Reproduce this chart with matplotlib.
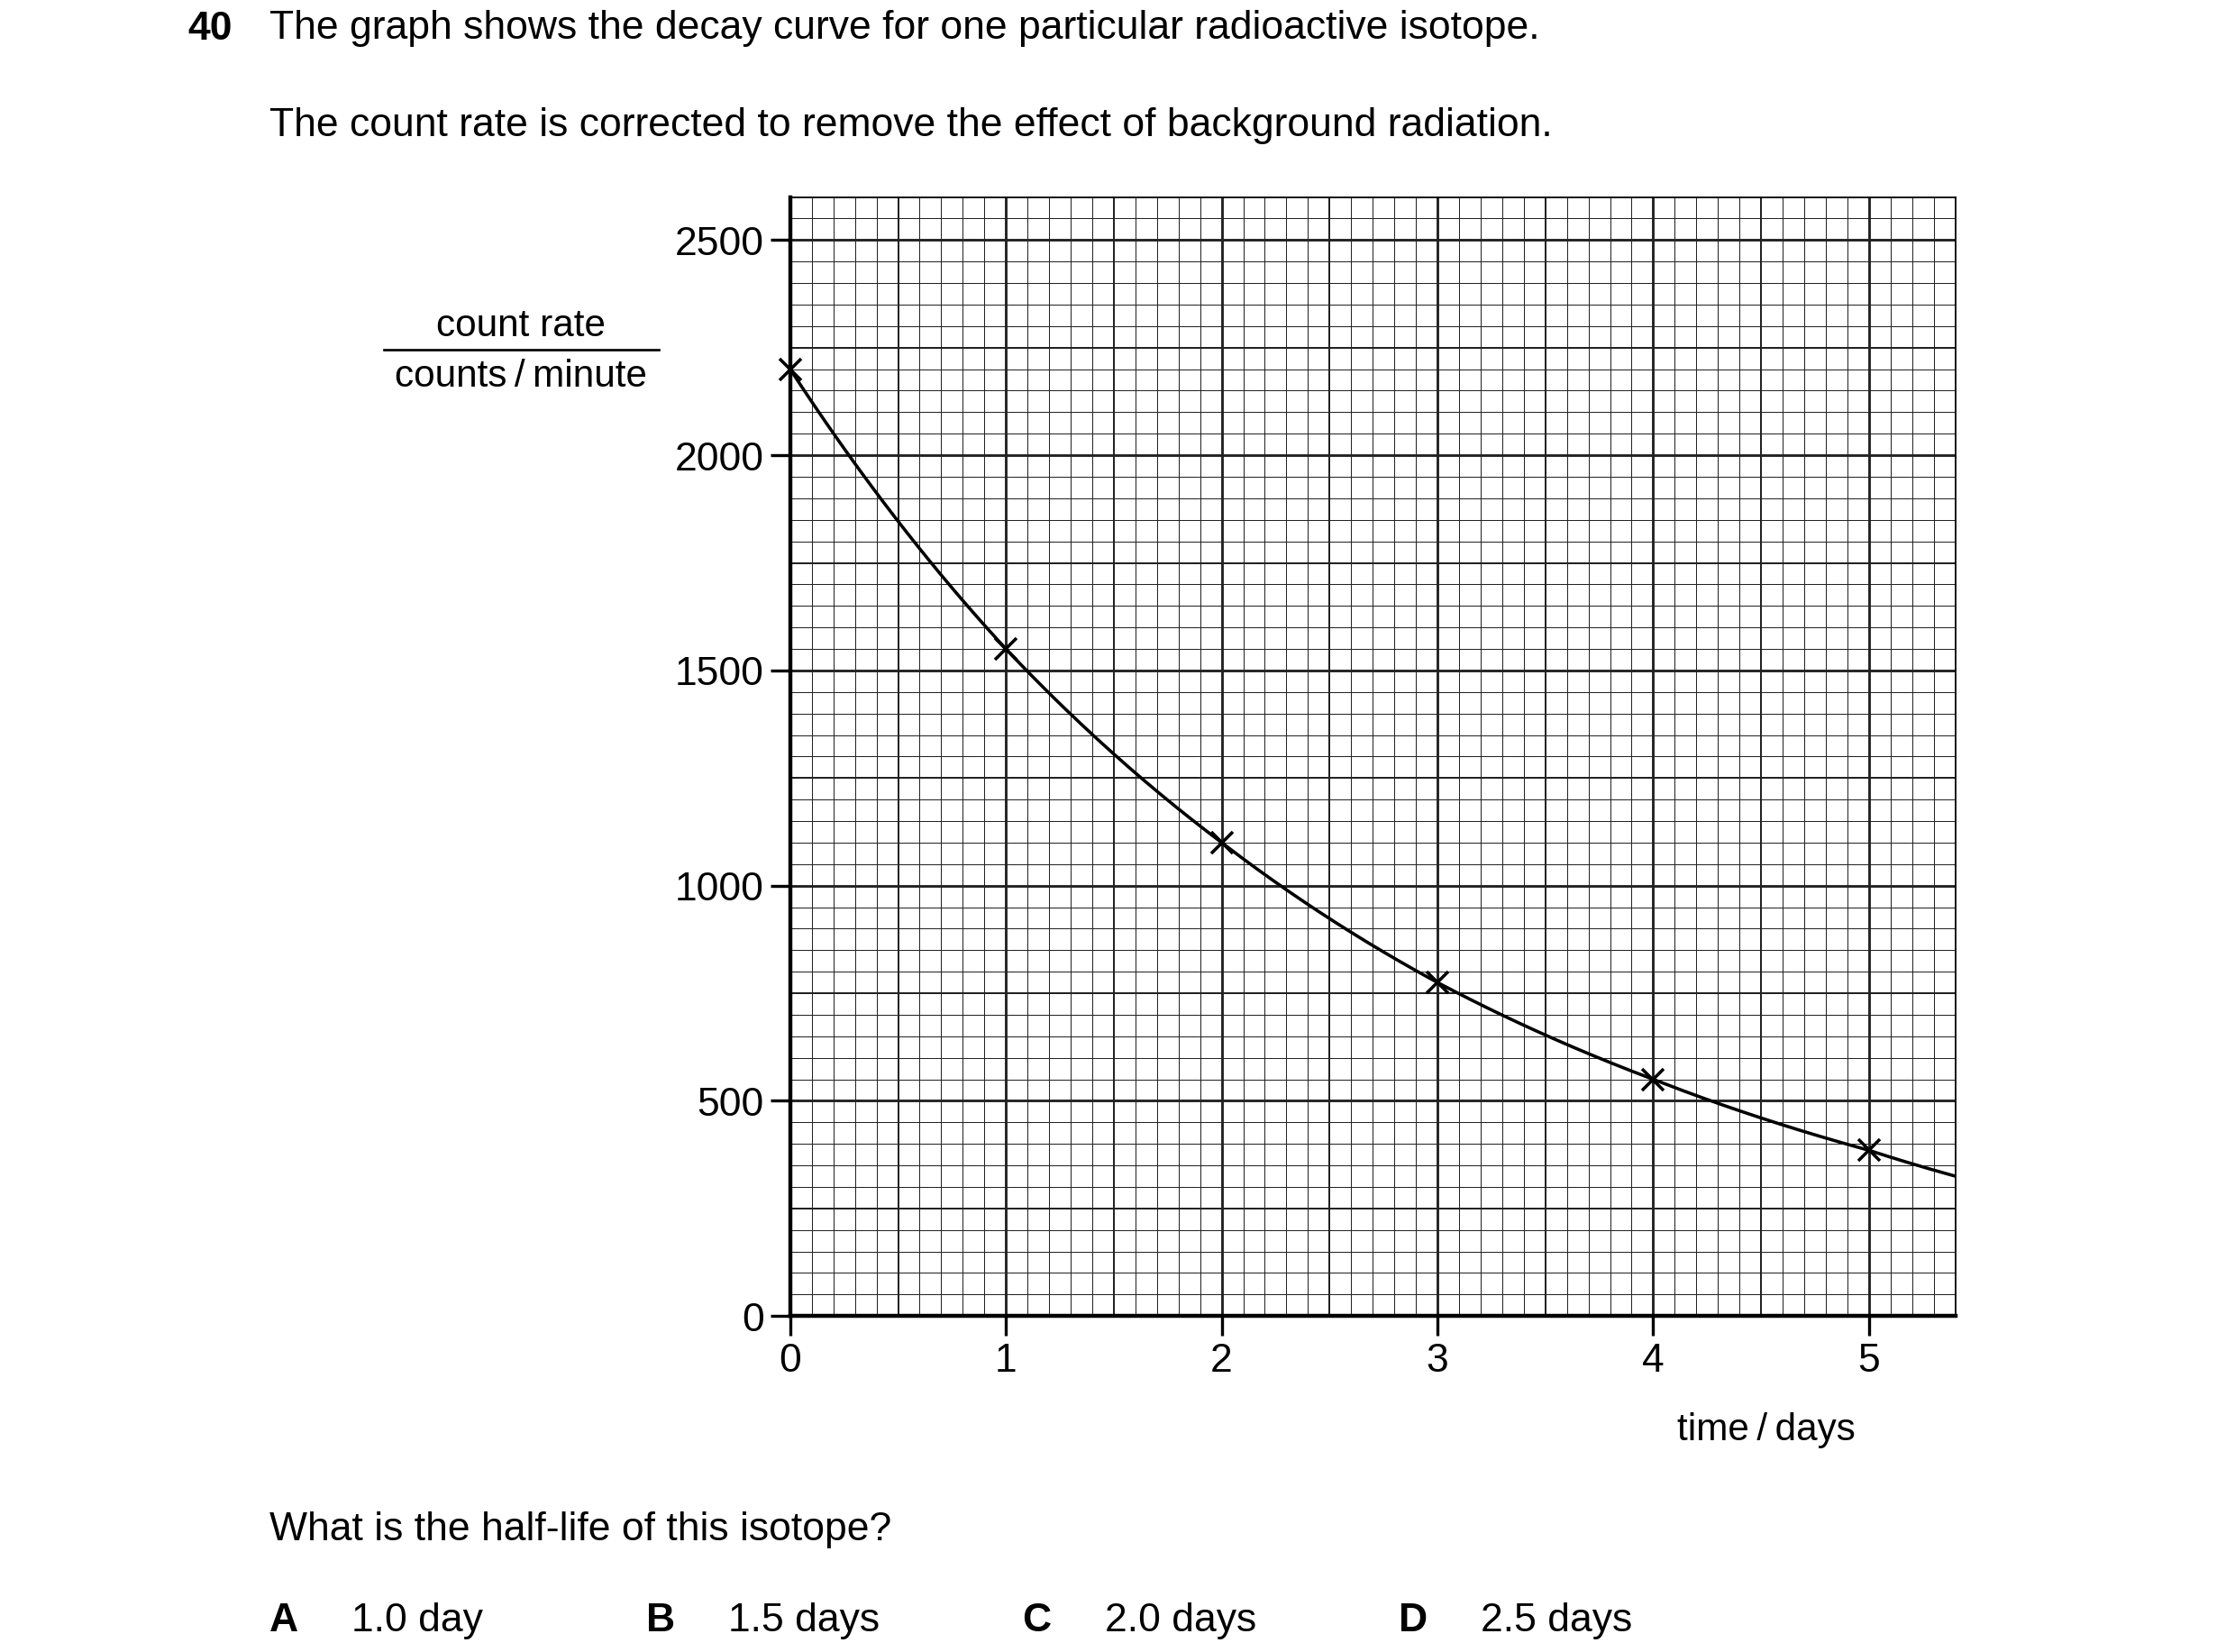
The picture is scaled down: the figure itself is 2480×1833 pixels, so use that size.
import matplotlib.pyplot as plt
import numpy as np

plt.rcParams['font.family'] = ['Liberation Sans', 'DejaVu Sans']

days = [0, 1, 2, 3, 4, 5]
counts = [2200, 1550, 1100, 775, 550, 385]
curve_end_day = 5.4
curve_end_count = 325

W, H = 1550, 1146
fig = plt.figure(figsize=(15.5, 11.46), dpi=160)

def fx(px):
    return px / W

def fy(py):
    return 1 - py / H

ax = fig.add_axes([fx(548), fy(913), fx(1356) - fx(548), fy(137) - fy(913)])
ax.set_xlim(0, 5.4)
ax.set_ylim(0, 2600)

# graph paper
for x in np.arange(0, 5.41, 0.1):
    r = round(x * 10)
    lw = 1.3 if r % 10 == 0 else (0.9 if r % 5 == 0 else 0.45)
    ax.axvline(x, color='#222222', lw=lw, zorder=1)
for y in np.arange(0, 2601, 50):
    lw = 1.3 if y % 500 == 0 else (0.9 if y % 250 == 0 else 0.45)
    ax.axhline(y, color='#222222', lw=lw, zorder=1)

# curve through the plotted points
xd = days + [curve_end_day]
yd = counts + [curve_end_count]
xs = np.linspace(0, curve_end_day, 300)
ys = np.exp(np.interp(xs, xd, np.log(yd)))
ax.plot(xs, ys, color='black', lw=1.6, zorder=3)
ax.plot(days, counts, 'x', color='black', ms=11, mew=1.6, zorder=4, clip_on=False)

for s in ['left', 'bottom']:
    ax.spines[s].set_linewidth(2)
for s in ['top', 'right']:
    ax.spines[s].set_linewidth(0.8)
ax.set_xticks(days)
ax.set_yticks([0, 500, 1000, 1500, 2000, 2500])
ax.tick_params(direction='out', length=10, width=1.5, labelsize=20, pad=3)

ts = 19
fig.text(fx(361), fy(226), 'count rate', fontsize=ts, ha='center', va='center')
fig.text(fx(361), fy(261), 'counts\u2009/\u2009minute', fontsize=ts, ha='center', va='center')
fig.add_artist(plt.Line2D([fx(266), fx(457)], [fy(243), fy(243)], color='black', lw=1.2))
fig.text(fx(1225), fy(992), 'time\u2009/\u2009days', fontsize=ts, ha='center', va='center')

fs = 20
fig.text(fx(130), fy(20), '40', fontsize=fs, weight='bold', va='center')
fig.text(fx(187), fy(20), 'The graph shows the decay curve for one particular radioactive isotope.', fontsize=fs, va='center')
fig.text(fx(187), fy(87), 'The count rate is corrected to remove the effect of background radiation.', fontsize=fs, va='center')
fig.text(fx(187), fy(1061), 'What is the half-life of this isotope?', fontsize=fs, va='center')
for letter, lx, ans, tx in [('A', 187, '1.0 day', 244), ('B', 448, '1.5 days', 505),
                            ('C', 709, '2.0 days', 766), ('D', 970, '2.5 days', 1027)]:
    fig.text(fx(lx), fy(1124), letter, fontsize=fs, weight='bold', va='center')
    fig.text(fx(tx), fy(1124), ans, fontsize=fs, va='center')

plt.savefig('out.png', dpi=160)
